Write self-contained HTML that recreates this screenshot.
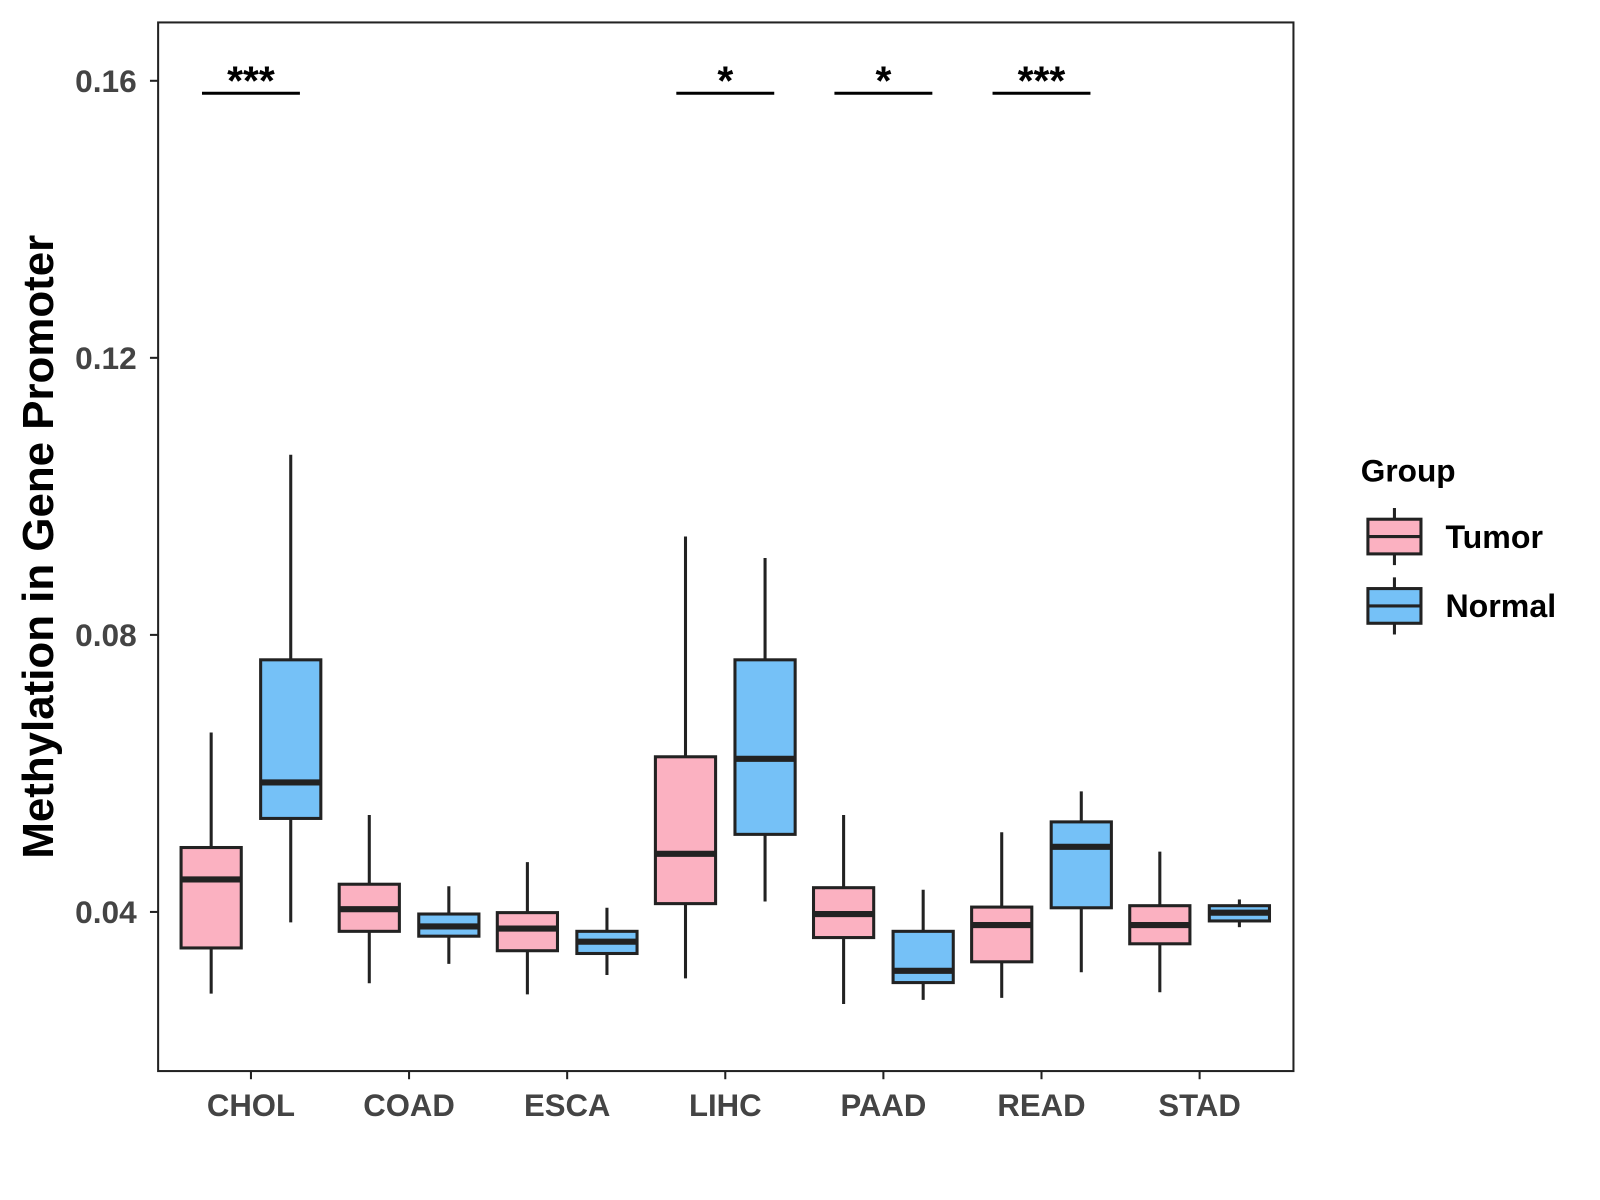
<!DOCTYPE html>
<html><head><meta charset="utf-8"><style>
html,body{margin:0;padding:0;background:#fff;}
svg{display:block;font-family:"Liberation Sans",Arial,sans-serif;}
</style></head><body>
<svg id="chart" width="1600" height="1200" viewBox="0 0 1568.5 1176.4">
<rect x="155" y="22" width="1113" height="1028" fill="#fff" stroke="#222" stroke-width="2"/>
<g id="yaxis"></g>
<g id="xaxis"></g>
<g id="boxes"></g>
<g id="sig"></g>
<text x="52" y="536" transform="rotate(-90 52 536)" text-anchor="middle" font-size="43" font-weight="bold" fill="#000">Methylation in Gene Promoter</text>
<g>
<text x="1334" y="472" font-size="31" font-weight="bold" fill="#000">Group</text>
<g>
<line x1="1367" y1="498" x2="1367" y2="554" stroke="#222" stroke-width="3"/>
<rect x="1341" y="509" width="52" height="34" fill="#FBB1C1" stroke="#222" stroke-width="3"/>
<line x1="1341" y1="526" x2="1393" y2="526" stroke="#222" stroke-width="3"/>
<text x="1417" y="537" font-size="31.5" font-weight="bold" fill="#000">Tumor</text>
</g>
<g>
<line x1="1367" y1="566" x2="1367" y2="622" stroke="#222" stroke-width="3"/>
<rect x="1341" y="577" width="52" height="34" fill="#75C1F7" stroke="#222" stroke-width="3"/>
<line x1="1341" y1="594" x2="1393" y2="594" stroke="#222" stroke-width="3"/>
<text x="1417" y="605" font-size="31.5" font-weight="bold" fill="#000">Normal</text>
</g>
</g>
</svg>
<script>
const categories=["CHOL","COAD","ESCA","LIHC","PAAD","READ","STAD"];
const tumorLow=[0.0282,0.0297,0.0281,0.0304,0.0267,0.0276,0.0284];
const tumorQ1=[0.0348,0.0372,0.0344,0.0412,0.0363,0.0328,0.0354];
const tumorMed=[0.0447,0.0404,0.0376,0.0484,0.0397,0.0381,0.0381];
const tumorQ3=[0.0493,0.0440,0.0399,0.0624,0.0435,0.0407,0.0409];
const tumorHigh=[0.0659,0.0540,0.0472,0.0942,0.0540,0.0515,0.0487];
const normalLow=[0.0385,0.0325,0.0309,0.0415,0.0273,0.0313,0.0378];
const normalQ1=[0.0535,0.0365,0.0340,0.0512,0.0298,0.0406,0.0387];
const normalMed=[0.0587,0.0379,0.0357,0.0621,0.0315,0.0494,0.0399];
const normalQ3=[0.0764,0.0397,0.0372,0.0764,0.0372,0.0530,0.0409];
const normalHigh=[0.1060,0.0437,0.0406,0.0911,0.0432,0.0574,0.0418];
const yTicks=[0.04,0.08,0.12,0.16];
const yTickLabels=["0.04","0.08","0.12","0.16"];
const sigCategories=["CHOL","LIHC","PAAD","READ"];
const sigLabels=["***","*","*","***"];
const sigLevel=0.1582;

const NS="http://www.w3.org/2000/svg";
function y(v){return 894-(v-0.04)*6790;}
function x(i){return 246+i*155;}
function mk(tag,attrs,parent){const e=document.createElementNS(NS,tag);for(const k in attrs)e.setAttribute(k,attrs[k]);parent.appendChild(e);return e;}
const yax=document.getElementById('yaxis'),xax=document.getElementById('xaxis'),bx=document.getElementById('boxes'),sg=document.getElementById('sig');
yTicks.forEach((t,i)=>{
  const l=mk('line',{x1:147,x2:155,y1:y(t),y2:y(t),stroke:'#222','stroke-width':2},yax);
  
  
  const tx=mk('text',{x:134,y:y(t)+11,'text-anchor':'end','font-size':31,'font-weight':'bold',fill:'#444'},yax);
  tx.textContent=yTickLabels[i];
  
  
});
categories.forEach((c,i)=>{
  const l=mk('line',{x1:x(i),x2:x(i),y1:1050,y2:1058,stroke:'#222','stroke-width':2},xax);
  
  
  const tx=mk('text',{x:x(i),y:1094,'text-anchor':'middle','font-size':30.5,'font-weight':'bold',fill:'#444'},xax);
  tx.textContent=c;
  
  
});
function box(cx,lo,q1,md,q3,hi,fill,name){
  const g=mk('g',{},bx);
  
  
  mk('line',{x1:cx,x2:cx,y1:y(hi),y2:y(lo),stroke:'#222','stroke-width':3},g);
  mk('rect',{x:cx-29.5,y:y(q3),width:59,height:y(q1)-y(q3),fill:fill,stroke:'#222','stroke-width':3},g);
  mk('line',{x1:cx-29.5,x2:cx+29.5,y1:y(md),y2:y(md),stroke:'#222','stroke-width':6},g);
}
categories.forEach((c,i)=>{
  box(x(i)-39,tumorLow[i],tumorQ1[i],tumorMed[i],tumorQ3[i],tumorHigh[i],'#FBB1C1','box-'+c.toLowerCase()+'-tumor');
  box(x(i)+39,normalLow[i],normalQ1[i],normalMed[i],normalQ3[i],normalHigh[i],'#75C1F7','box-'+c.toLowerCase()+'-normal');
});
sigCategories.forEach((c,k)=>{
  const i=categories.indexOf(c);
  const l=mk('line',{x1:x(i)-48,x2:x(i)+48,y1:y(sigLevel),y2:y(sigLevel),stroke:'#000','stroke-width':3},sg);
  
  
  const t=mk('text',{x:x(i),y:y(sigLevel)+1,'text-anchor':'middle','font-size':40,'font-weight':'bold',fill:'#000'},sg);
  t.textContent=sigLabels[k];
  
  
});
</script>
</body></html>
